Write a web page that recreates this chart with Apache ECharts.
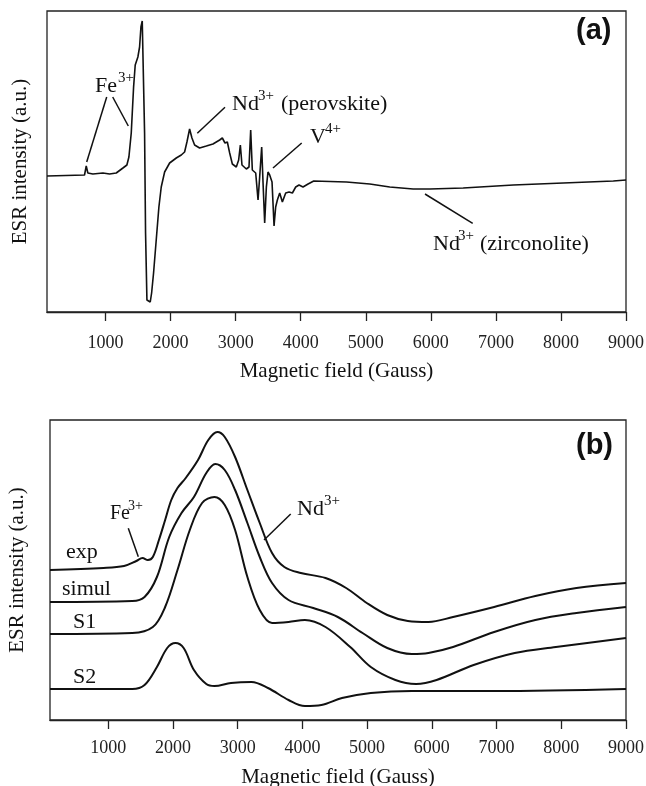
<!DOCTYPE html>
<html>
<head>
<meta charset="utf-8">
<script src="https://cdn.jsdelivr.net/npm/echarts@6/dist/echarts.min.js"></script>
<style>
html,body{margin:0;padding:0;background:#fff;}
#chart{width:646px;height:786px;}
</style>
</head>
<body>
<div id="chart"></div>
<script>
// ---------- data ----------
const xTicks = [1000, 2000, 3000, 4000, 5000, 6000, 7000, 8000, 9000];

// Panel (a): experimental ESR spectrum (arbitrary units)
const fieldA = [100, 677, 703, 728, 805, 959, 1062, 1164, 1267, 1328, 1359, 1395, 1431, 1456, 1497, 1523, 1544, 1564, 1585, 1600, 1615, 1636, 1687, 1708, 1738, 1779, 1820, 1856, 1908, 1985, 2087, 2164, 2215, 2251, 2292, 2328, 2369, 2446, 2549, 2651, 2754, 2795, 2836, 2872, 2908, 2949, 3010, 3046, 3072, 3097, 3164, 3205, 3231, 3256, 3308, 3344, 3369, 3400, 3421, 3446, 3472, 3497, 3523, 3559, 3590, 3615, 3641, 3677, 3718, 3769, 3821, 3872, 3923, 3974, 4035, 4113, 4200, 4703, 5062, 5369, 5728, 5985, 6497, 7267, 8036, 8805, 9000];
const esrA = [136, 137, 146, 139, 138, 139, 138, 139, 144, 147, 155, 179, 225, 247, 255, 265, 285, 291, 290, 179, 79, 12, 10, 19, 39, 72, 105, 125, 140, 149, 154, 157, 160, 170, 183, 174, 167, 164, 166, 168, 172, 174, 169, 170, 159, 148, 145, 152, 167, 147, 143, 145, 182, 142, 139, 112, 135, 165, 129, 89, 125, 140, 137, 130, 86, 105, 112, 119, 110, 119, 120, 119, 125, 127, 125, 128, 131, 130, 128, 125, 123, 123, 124, 127, 129, 131, 132];

// Panel (b): exp, simul, S1, S2 (arbitrary units, stacked offsets as drawn)
const fieldExp = [100, 926, 1244, 1434, 1530, 1612, 1689, 1783, 1879, 1974, 2070, 2197, 2387, 2546, 2686, 2800, 2960, 3150, 3341, 3531, 3721, 3976, 4357, 4676, 4994, 5311, 5629, 5947, 6328, 6963, 7599, 8235, 9000];
const esrExp = [150, 152, 154, 159, 162, 160, 163, 180, 200, 220, 232, 242, 260, 280, 288, 283, 263, 230, 197, 167, 153, 147, 142, 132, 117, 105, 99, 98, 103, 113, 124, 132, 137];

const fieldSimul = [100, 1371, 1561, 1752, 1942, 2132, 2324, 2515, 2654, 2800, 2960, 3150, 3341, 3531, 3786, 4167, 4547, 4929, 5311, 5692, 5947, 6328, 6963, 7599, 8235, 9000];
const esrSimul = [118, 119, 123, 143, 183, 207, 223, 247, 256, 250, 230, 197, 163, 137, 120, 112, 103, 87, 72, 66, 67, 73, 88, 100, 107, 113];

const fieldS1 = [100, 1371, 1689, 1879, 2070, 2260, 2450, 2641, 2800, 2960, 3150, 3341, 3531, 3786, 4039, 4357, 4739, 5057, 5437, 5756, 6073, 6646, 7281, 7917, 9000];
const esrS1 = [86, 87, 93, 113, 150, 190, 217, 223, 215, 190, 143, 110, 97, 98, 100, 93, 73, 53, 40, 36, 40, 55, 67, 73, 82];

const fieldS2 = [100, 1371, 1561, 1752, 1911, 2038, 2165, 2324, 2515, 2641, 2896, 3213, 3468, 3786, 4039, 4294, 4612, 5057, 5692, 6963, 9000];
const esrS2 = [31, 31, 35, 53, 72, 77, 72, 50, 36, 34, 37, 38, 32, 20, 14, 15, 22, 27, 29, 29, 31];

// ---------- chart ----------
const zip = (xs, ys) => xs.map((x, i) => [x, ys[i]]);
const SERIF = '"Liberation Serif", "Times New Roman", serif';
const INK = '#111';

function xAxisFor(gridIndex, nameGap, labelMargin) {
  return {
    gridIndex, type: 'value', min: 100, max: 9000,
    name: 'Magnetic field (Gauss)', nameLocation: 'middle', nameGap,
    nameTextStyle: { fontFamily: SERIF, fontSize: 21, color: INK },
    axisLine: { show: true, lineStyle: { color: '#222', width: 1.3 } },
    axisTick: { show: true, inside: false, length: 9, customValues: xTicks, lineStyle: { color: '#222', width: 1.3 } },
    axisLabel: { customValues: xTicks, margin: labelMargin, fontFamily: SERIF, fontSize: 18, color: '#222', formatter: v => String(v) },
    splitLine: { show: false }
  };
}
function yAxisFor(gridIndex, max, nameGap) {
  return {
    gridIndex, type: 'value', min: 0, max,
    name: 'ESR intensity (a.u.)', nameLocation: 'middle', nameGap, nameRotate: 90,
    nameTextStyle: { fontFamily: SERIF, fontSize: 21, color: INK },
    axisLine: { show: false }, axisTick: { show: false }, axisLabel: { show: false },
    splitLine: { show: false }
  };
}
const lineSeries = (xi, data, w, smooth) => ({
  type: 'line', xAxisIndex: xi, yAxisIndex: xi, data, showSymbol: false, symbol: 'none',
  lineStyle: { color: INK, width: w }, smooth: smooth, animation: false
});

function txt(x, y, text, size, opts) {
  return Object.assign({
    type: 'text', x, y,
    style: { text, fontFamily: SERIF, fontSize: size, fill: INK, align: 'left', verticalAlign: 'middle' }
  }, opts || {});
}
function seg(x1, y1, x2, y2) {
  return { type: 'line', shape: { x1, y1, x2, y2 }, style: { stroke: INK, lineWidth: 1.5 } };
}
function bold(x, y, text) {
  return { type: 'text', x, y, style: { text, fontFamily: '"Liberation Sans", Arial, sans-serif', fontWeight: 'bold', fontSize: 29, fill: INK, align: 'left', verticalAlign: 'middle' } };
}

const chart = echarts.init(document.getElementById('chart'), null, { renderer: 'canvas' });
chart.setOption({
  animation: false,
  backgroundColor: '#fff',
  grid: [
    { left: 47, top: 11, width: 579, height: 301, show: true, borderColor: '#222', borderWidth: 1.3, backgroundColor: 'transparent', outerBoundsMode: 'none', containLabel: false },
    { left: 50, top: 420, width: 576, height: 300, show: true, borderColor: '#222', borderWidth: 1.3, backgroundColor: 'transparent', outerBoundsMode: 'none', containLabel: false }
  ],
  xAxis: [xAxisFor(0, 49, 22), xAxisFor(1, 47, 19)],
  yAxis: [yAxisFor(0, 301, 16), yAxisFor(1, 300, 22)],
  series: [
    lineSeries(0, zip(fieldA, esrA), 1.6, false),
    lineSeries(1, zip(fieldExp, esrExp), 2, 0.35),
    lineSeries(1, zip(fieldSimul, esrSimul), 2, 0.35),
    lineSeries(1, zip(fieldS1, esrS1), 2, 0.35),
    lineSeries(1, zip(fieldS2, esrS2), 2, 0.35)
  ],
  graphic: [
    // panel (a)
    bold(576, 31, '(a)'),
    txt(95, 86, 'Fe', 22), txt(118, 78, '3+', 15),
    seg(106.7, 97, 86.7, 162), seg(112.7, 97, 128.3, 126),
    txt(232, 104, 'Nd', 22), txt(258, 96, '3+', 15), txt(281, 104, '(perovskite)', 22),
    seg(225, 107.3, 197.3, 133.3),
    txt(310, 137, 'V', 22), txt(325, 129, '4+', 15),
    seg(301.7, 143, 273, 168),
    txt(433, 244, 'Nd', 22), txt(458, 236, '3+', 15), txt(480, 244, '(zirconolite)', 22),
    seg(425, 194, 472.7, 223.3),
    // panel (b)
    bold(576, 446, '(b)'),
    txt(66, 552, 'exp', 22), txt(62, 589, 'simul', 22), txt(73, 622, 'S1', 22), txt(73, 677, 'S2', 22),
    txt(110, 514, 'Fe', 20), txt(128, 506, '3+', 14),
    seg(128.3, 528.3, 138.3, 556.7),
    txt(297, 509, 'Nd', 22), txt(324, 501, '3+', 15),
    seg(290.7, 514, 264, 540)
  ]
});
</script>
</body>
</html>
